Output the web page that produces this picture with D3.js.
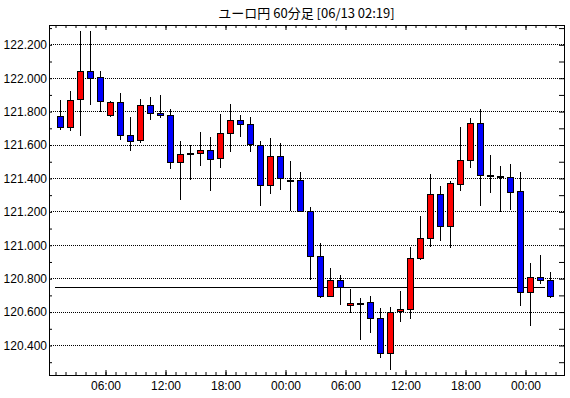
<!DOCTYPE html>
<html>
<head>
<meta charset="utf-8">
<script src="https://cdn.jsdelivr.net/npm/d3@7"></script>
<style>
body { margin: 0; background: #fff; }
text { font-family: "Liberation Sans", Arial, sans-serif; font-size: 12px; fill: #000; }
.title { font-family: "Noto Sans CJK JP", sans-serif; font-size: 13px; }
</style>
</head>
<body>
<div class="chart"></div>
<script>
var svgWidth = 570
var svgHeight = 398

var title = "ユーロ円 60分足 [06/13 02:19]";

// first candle starts 06/11 01:00, one candle per hour
var firstHour = new Date(Date.UTC(2024, 5, 11, 1));

var opens = [121.770, 121.706, 121.874, 122.038, 122.002, 121.778, 121.854, 121.660, 121.630, 121.834,
    121.786, 121.774, 121.498, 121.550, 121.552, 121.570, 121.522, 121.672, 121.744, 121.720,
    121.600, 121.360, 121.534, 121.390, 121.388, 121.202, 120.932, 120.696, 120.788, 120.638,
    120.652, 120.656, 120.560, 120.354, 120.602, 120.614, 120.920, 121.040, 121.304, 121.110,
    121.364, 121.510, 121.726, 121.418, 121.412, 121.408, 121.322, 120.720, 120.810, 120.788];
var highs = [121.866, 121.920, 122.280, 122.280, 122.038, 121.860, 121.910, 121.764, 121.872, 121.884,
    121.896, 121.812, 121.620, 121.600, 121.674, 121.644, 121.784, 121.842, 121.776, 121.762,
    121.620, 121.638, 121.608, 121.500, 121.436, 121.228, 121.010, 120.862, 120.820, 120.736,
    120.682, 120.694, 120.619, 120.626, 120.726, 120.986, 121.170, 121.426, 121.350, 121.380,
    121.704, 121.758, 121.812, 121.536, 121.470, 121.482, 121.434, 120.890, 120.938, 120.836];
var lows = [121.694, 121.686, 121.656, 121.842, 121.798, 121.770, 121.634, 121.566, 121.616, 121.754,
    121.762, 121.462, 121.274, 121.394, 121.478, 121.328, 121.466, 121.562, 121.652, 121.562,
    121.238, 121.310, 121.334, 121.210, 121.200, 120.798, 120.690, 120.696, 120.648, 120.600,
    120.438, 120.480, 120.330, 120.256, 120.546, 120.564, 120.914, 120.990, 121.026, 120.984,
    121.328, 121.466, 121.238, 121.316, 121.200, 121.215, 120.642, 120.520, 120.770, 120.690];
var closes = [121.706, 121.864, 122.038, 122.000, 121.862, 121.854, 121.660, 121.624, 121.834, 121.786,
    121.774, 121.498, 121.546, 121.550, 121.570, 121.516, 121.672, 121.744, 121.720, 121.602,
    121.360, 121.534, 121.398, 121.390, 121.200, 120.930, 120.696, 120.788, 120.746, 120.650,
    120.652, 120.560, 120.354, 120.600, 120.614, 120.920, 121.040, 121.304, 121.110, 121.370,
    121.510, 121.726, 121.420, 121.418, 121.412, 121.316, 120.720, 120.810, 120.788, 120.696];

var priceLine = 120.745;

var gridValues = [120.4, 120.6, 120.8, 121.0, 121.2, 121.4, 121.6, 121.8, 122.0, 122.2];
var tickValues = [120.3, 120.4, 120.5, 120.6, 120.7, 120.8, 120.9, 121.0, 121.1, 121.2, 121.3,
    121.4, 121.5, 121.6, 121.7, 121.8, 121.9, 122.0, 122.1, 122.2, 122.3];

var frame = { left: 49, right: 564, top: 25, bottom: 375 };

var candles = opens.map(function(o, i) {
    return {
        time: d3.utcHour.offset(firstHour, i),
        open: o, high: highs[i], low: lows[i], close: closes[i]
    };
});

var lastHour = d3.utcHour.offset(firstHour, candles.length);

var x = d3.scaleUtc()
    .domain([firstHour, lastHour])
    .range([55, 555]);

var y = d3.scaleLinear()
    .domain([120.2204, 122.3155])
    .range([frame.bottom, frame.top]);

var svg = d3.select(".chart")
    .append("svg")
    .attr("width", svgWidth)
    .attr("height", svgHeight);

svg.append("rect")
    .attr("width", svgWidth)
    .attr("height", svgHeight)
    .attr("fill", "#fff");

svg.append("text")
    .attr("class", "title")
    .attr("x", (frame.left + frame.right) / 2)
    .attr("y", 18)
    .attr("text-anchor", "middle")
    .text(title);

// dotted grid
svg.append("g")
    .selectAll("line")
    .data(gridValues)
    .enter()
    .append("line")
    .attr("x1", frame.left)
    .attr("x2", frame.right)
    .attr("y1", d => Math.round(y(d)) + 0.5)
    .attr("y2", d => Math.round(y(d)) + 0.5)
    .attr("stroke", "#000")
    .attr("stroke-dasharray", "1,1");

// bottom axis: hourly small ticks, 6h ticks with labels
var hourTicks = d3.utcHour.every(1);
var sixTicks = d3.utcHour.every(6);

function strip(g) {
    g.select(".domain").remove();
    g.attr("font-family", null).attr("font-size", null);
}

svg.append("g")
    .attr("transform", `translate(0.5, ${frame.bottom})`)
    .call(d3.axisBottom(x).ticks(hourTicks).tickSize(-3).tickSizeOuter(0).tickFormat(""))
    .call(strip);

svg.append("g")
    .attr("transform", `translate(0.5, ${frame.bottom})`)
    .call(d3.axisBottom(x).ticks(sixTicks).tickSize(-5).tickSizeOuter(0)
        .tickPadding(6).tickFormat(d3.utcFormat("%H:%M")))
    .call(strip);

// top axis, ticks point down
svg.append("g")
    .attr("transform", `translate(0.5, ${frame.top})`)
    .call(d3.axisTop(x).ticks(hourTicks).tickSize(-3).tickSizeOuter(0).tickFormat(""))
    .call(strip);

svg.append("g")
    .attr("transform", `translate(0.5, ${frame.top})`)
    .call(d3.axisTop(x).ticks(sixTicks).tickSize(-5).tickSizeOuter(0).tickFormat(""))
    .call(strip);

// left axis
svg.append("g")
    .attr("transform", `translate(${frame.left}, 0.5)`)
    .call(d3.axisLeft(y).tickValues(tickValues).tickSize(-3).tickSizeOuter(0).tickFormat(""))
    .call(strip);

svg.append("g")
    .attr("transform", `translate(${frame.left}, 0.5)`)
    .call(d3.axisLeft(y).tickValues(gridValues).tickSize(0).tickSizeOuter(0)
        .tickPadding(2).tickFormat(d3.format(".3f")))
    .call(strip);

// right axis
svg.append("g")
    .attr("transform", `translate(${frame.right}, 0.5)`)
    .call(d3.axisRight(y).tickValues(tickValues).tickSize(-5).tickSizeOuter(0).tickFormat(""))
    .call(strip);

// frame
svg.append("rect")
    .attr("x", frame.left + 0.5)
    .attr("y", frame.top + 0.5)
    .attr("width", frame.right - frame.left)
    .attr("height", frame.bottom - frame.top)
    .attr("fill", "none")
    .attr("stroke", "#000");

// current price line
svg.append("line")
    .attr("x1", x(firstHour))
    .attr("x2", x(candles[candles.length - 1].time))
    .attr("y1", Math.round(y(priceLine)) + 0.5)
    .attr("y2", Math.round(y(priceLine)) + 0.5)
    .attr("stroke", "#000");

function center(d) {
    return Math.round(x(d3.timeMinute.offset(d.time, 30)));
}

var candleGroup = svg.append("g");

candleGroup.selectAll(".wick")
    .data(candles)
    .enter()
    .append("line")
    .attr("class", "wick")
    .attr("x1", d => center(d) + 0.5)
    .attr("x2", d => center(d) + 0.5)
    .attr("y1", d => Math.round(y(d.high)))
    .attr("y2", d => Math.round(y(d.low)) + 1)
    .attr("stroke", "#000");

candleGroup.selectAll(".body")
    .data(candles)
    .enter()
    .append("rect")
    .attr("class", "body")
    .attr("x", d => center(d) - 2.5)
    .attr("y", d => Math.round(y(Math.max(d.open, d.close))) + 0.5)
    .attr("width", 6)
    .attr("height", d => Math.max(1, Math.round(y(Math.min(d.open, d.close))) - Math.round(y(Math.max(d.open, d.close)))))
    .attr("fill", function(d) {
        if (d.close > d.open) return "#ff0000";
        if (d.close < d.open) return "#0000ff";
        return "#000";
    })
    .attr("stroke", "#000");
</script>
</body>
</html>
